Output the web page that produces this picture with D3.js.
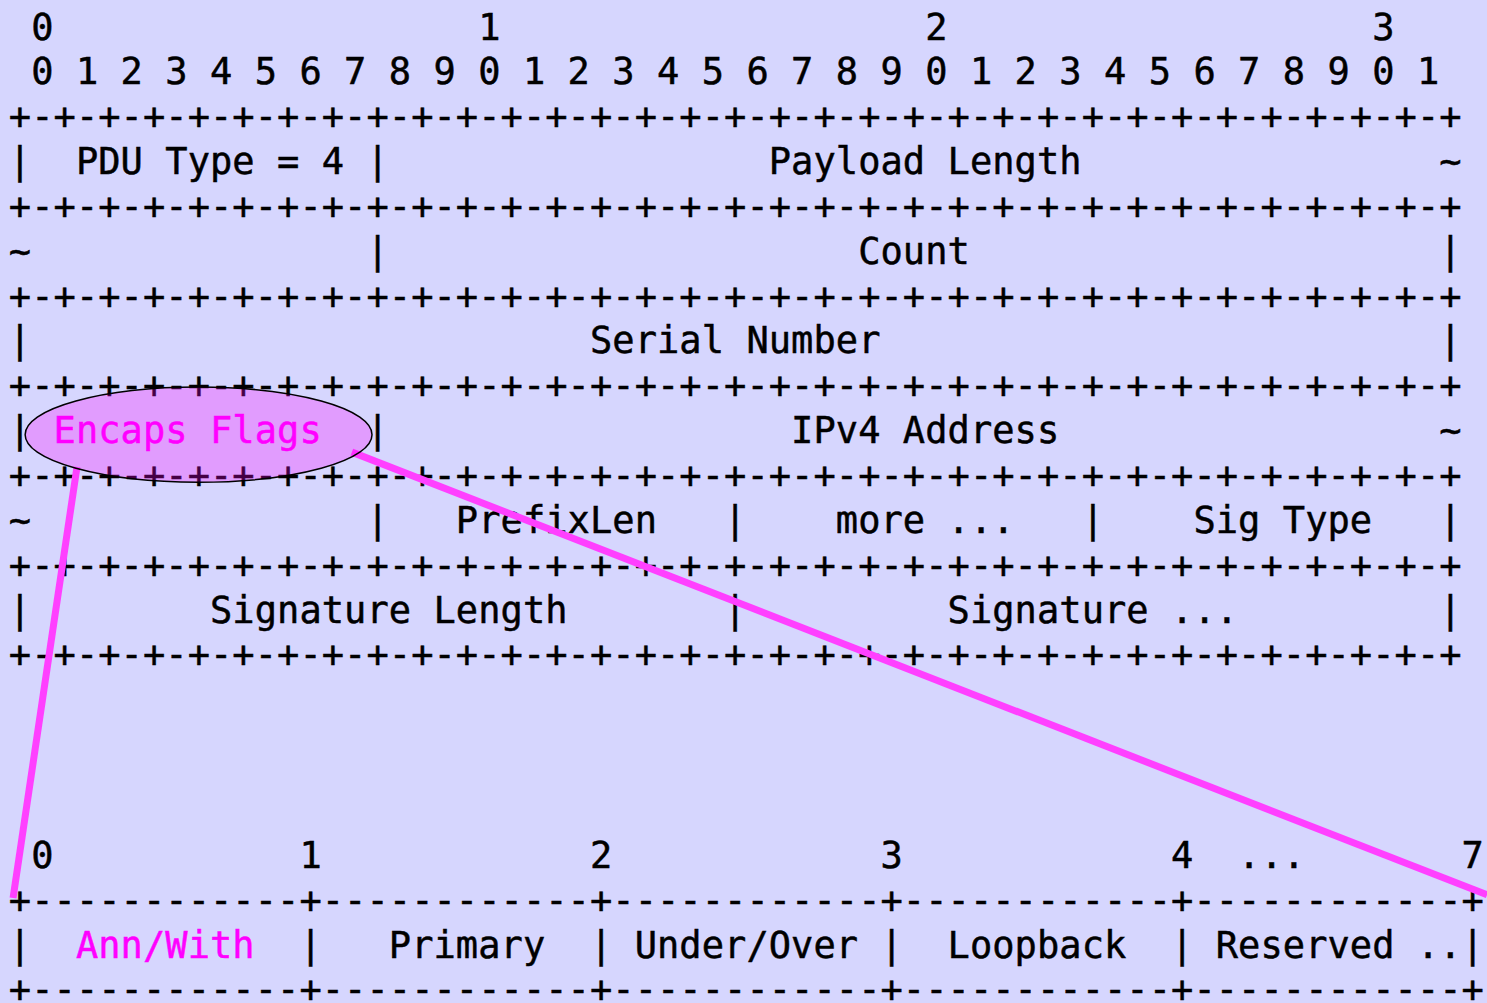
<!DOCTYPE html>
<html>
<head>
<meta charset="utf-8">
<script src="https://cdn.jsdelivr.net/npm/d3@7"></script>
<style>
  html, body { margin: 0; padding: 0; background: #d6d6fe; }
  svg { display: block; }
</style>
</head>
<body>
<script>
// ---------- data ----------
const tensLabels = ["0", "1", "2", "3"];
const unitBits = d3.range(32).map(i => String(i % 10));
const fieldRows = [
  { row: 3,  tokens: [[0, "|"], [3, "PDU Type = 4"], [16, "|"], [34, "Payload Length"], [64, "~"]] },
  { row: 5,  tokens: [[0, "~"], [16, "|"], [38, "Count"], [64, "|"]] },
  { row: 7,  tokens: [[0, "|"], [26, "Serial Number"], [64, "|"]] },
  { row: 9,  tokens: [[0, "|"], [2, "Encaps Flags", "hl"], [16, "|"], [35, "IPv4 Address"], [64, "~"]] },
  { row: 11, tokens: [[0, "~"], [16, "|"], [20, "PrefixLen"], [32, "|"], [37, "more ..."], [48, "|"], [53, "Sig Type"], [64, "|"]] },
  { row: 13, tokens: [[0, "|"], [9, "Signature Length"], [32, "|"], [42, "Signature ..."], [64, "|"]] }
];
const separatorRows = [2, 4, 6, 8, 10, 12, 14];
const flagBitLabels = [[1, "0"], [13, "1"], [26, "2"], [39, "3"], [52, "4"], [55, "..."], [65, "7"]];
const flagFields = [
  { col: 3,  name: "Ann/With", hl: true },
  { col: 17, name: "Primary" },
  { col: 28, name: "Under/Over" },
  { col: 42, name: "Loopback" },
  { col: 54, name: "Reserved" },
  { col: 63, name: ".." }
];
const flagDividers = [0, 13, 26, 39, 52, 65];
// zoom callout (in column / row units)
const calloutEllipse = { col: 7.99, row: 9.1, rcol: 7.76, rrow: 1.06 };
const calloutLines = [
  { from: [2.55, 9.82], to: [-0.31, 19.43] },
  { from: [14.85, 9.49], to: [65.64, 19.36] }
];
const flagBlockRow = 18.47;

// ---------- scales ----------
const W = 1487, H = 1003;
const x = d3.scaleLinear().domain([0, 1]).range([20, 42.35]);       // column centre
const yBase = d3.scaleLinear().domain([0, 1]).range([39.5, 84.35]);  // row baseline
const yMid = r => yBase(r) - 13;                                     // row visual centre

const svg = d3.select("body").append("svg").attr("width", W).attr("height", H);
svg.append("rect").attr("width", W).attr("height", H).attr("fill", "#d6d6fe");

const FONT = "'DejaVu Sans Mono', 'Liberation Mono', monospace";
function textGroup() {
  return svg.append("g").attr("font-family", FONT).attr("font-size", 37).attr("text-anchor", "middle");
}
const gText = textGroup();

// draw a string placed character-by-character on the grid
function put(g, col, row, str, color) {
  const chars = [], xs = [];
  for (let i = 0; i < str.length; i++) {
    if (str[i] !== " ") { chars.push(str[i]); xs.push(x(col + i)); }
  }
  if (!chars.length) return;
  const c = color || "#000";
  g.append("text")
    .attr("x", xs.join(" "))
    .attr("y", yBase(row))
    .attr("fill", c)
    .attr("stroke", c).attr("stroke-width", 0.5)
    .text(chars.join(""));
}

// header bit numbers
tensLabels.forEach((t, i) => put(gText, 1 + 20 * i, 0, t));
unitBits.forEach((t, i) => put(gText, 1 + 2 * i, 1, t));

// separators
const sepStr = "+-".repeat(32) + "+";
separatorRows.forEach(r => put(gText, 0, r, sepStr));

// field rows
const highlighted = [];
fieldRows.forEach(fr => fr.tokens.forEach(([c, s, hl]) => {
  if (hl) highlighted.push({ c, r: fr.row, s });
  else put(gText, c, fr.row, s);
}));

// flags block
flagBitLabels.forEach(([c, s]) => put(gText, c, flagBlockRow, s));
const flagSep = "+" + flagFields.slice(0, 5).map(() => "-".repeat(12) + "+").join("");
put(gText, 0, flagBlockRow + 1, flagSep);
put(gText, 0, flagBlockRow + 3, flagSep);
flagDividers.forEach(c => put(gText, c, flagBlockRow + 2, "|"));
flagFields.filter(f => !f.hl).forEach(f => put(gText, f.col, flagBlockRow + 2, f.name));

// callout lines
svg.append("g").selectAll("line").data(calloutLines).join("line")
  .attr("x1", d => x(d.from[0])).attr("y1", d => yMid(d.from[1]))
  .attr("x2", d => x(d.to[0])).attr("y2", d => yMid(d.to[1]))
  .attr("stroke", "#ff40ff").attr("stroke-width", 7);

// callout ellipse
svg.append("ellipse")
  .attr("cx", x(calloutEllipse.col)).attr("cy", yMid(calloutEllipse.row))
  .attr("rx", x(calloutEllipse.rcol) - x(0)).attr("ry", yMid(calloutEllipse.rrow) - yMid(0))
  .attr("fill", "#ff00ff").attr("fill-opacity", 0.27)
  .attr("stroke", "#000").attr("stroke-width", 1.5);

// highlighted text on top
const gHl = textGroup();
highlighted.forEach(h => put(gHl, h.c, h.r, h.s, "#ff00ff"));
flagFields.filter(f => f.hl).forEach(f => put(gHl, f.col, flagBlockRow + 2, f.name, "#ff00ff"));
</script>
</body>
</html>
